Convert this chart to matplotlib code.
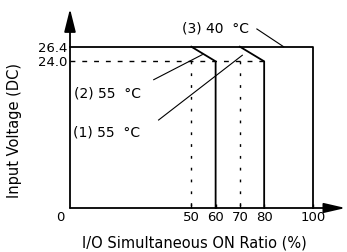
import matplotlib.pyplot as plt

# derating curves: (ratio %, voltage)
ratio_40 = [0, 100, 100]
volt_40 = [26.4, 26.4, 0]
ratio_55a = [50, 60, 60]
volt_55a = [26.4, 24.0, 0]
ratio_55b = [70, 80, 80]
volt_55b = [26.4, 24.0, 0]

xticks = [50, 60, 70, 80, 100]
xtick_labels = ['50', '60', '70', '80', '100']
yticks = [24.0, 26.4]
ytick_labels = ['24.0', '26.4']

W, H = 347, 252
fig = plt.figure(figsize=(W / 100, H / 100), dpi=100)
ax = fig.add_axes([70 / W, 1 - 208 / H, (312.7 - 70) / W, (208 - 46.7) / H])
ax.set_xlim(0, 100)
ax.set_ylim(0, 26.4)
for s in ax.spines.values():
    s.set_visible(False)

fs = 9.5
lw = 1.3

# axes with arrows
ax.annotate('', xy=(0, 32.6), xytext=(0, 0), annotation_clip=False,
            arrowprops=dict(arrowstyle='-|>,head_length=1.4,head_width=0.35',
                            color='black', lw=lw, shrinkA=0, shrinkB=0))
ax.annotate('', xy=(113.5, 0), xytext=(0, 0), annotation_clip=False,
            arrowprops=dict(arrowstyle='-|>,head_length=1.3,head_width=0.3',
                            color='black', lw=lw, shrinkA=0, shrinkB=0))

# curves
ax.plot(ratio_40, volt_40, color='black', lw=lw, clip_on=False)
ax.plot(ratio_55a, volt_55a, color='black', lw=lw, clip_on=False)
ax.plot(ratio_55b, volt_55b, color='black', lw=lw, clip_on=False)

# guide lines
ax.plot([0, 80], [24.0, 24.0], color='black', lw=1.0, ls=(0, (3.5, 5)))
ax.plot([50, 50], [24.0, 0], color='black', lw=1.0, ls=(0, (2, 6.5)))
ax.plot([70, 70], [24.0, 0], color='black', lw=1.0, ls=(0, (2, 6.5)))

# leaders
ax.plot([77, 88], [29.3, 26.4], color='black', lw=0.8, clip_on=False)
ax.plot([34.5, 54.5], [21.0, 25.1], color='black', lw=0.8, clip_on=False)
ax.plot([36.5, 71], [14.4, 25.0], color='black', lw=0.8, clip_on=False)

ax.text(46, 29.3, '(3) 40  \u00b0C', fontsize=10, va='center', ha='left', clip_on=False)
ax.text(1.6, 18.8, '(2) 55  \u00b0C', fontsize=10, va='center', ha='left')
ax.text(1.2, 12.3, '(1) 55  \u00b0C', fontsize=10, va='center', ha='left')

ax.set_xticks(xticks)
ax.set_xticklabels(xtick_labels, fontsize=fs)
ax.set_yticks(yticks)
ax.set_yticklabels(ytick_labels, fontsize=fs)
ax.tick_params(axis='x', direction='in', length=3, width=1, pad=2)
ax.tick_params(axis='y', length=0, pad=2)
ax.text(-4, -1.6, '0', fontsize=fs, ha='center', va='center', clip_on=False)

fig.text(194 / W, 1 - 243 / H, 'I/O Simultaneous ON Ratio (%)', fontsize=10.5,
         ha='center', va='center')
fig.text(15 / W, 1 - 130 / H, 'Input Voltage (DC)', fontsize=10.5,
         ha='center', va='center', rotation=90)

fig.savefig('out.png', dpi=100)
